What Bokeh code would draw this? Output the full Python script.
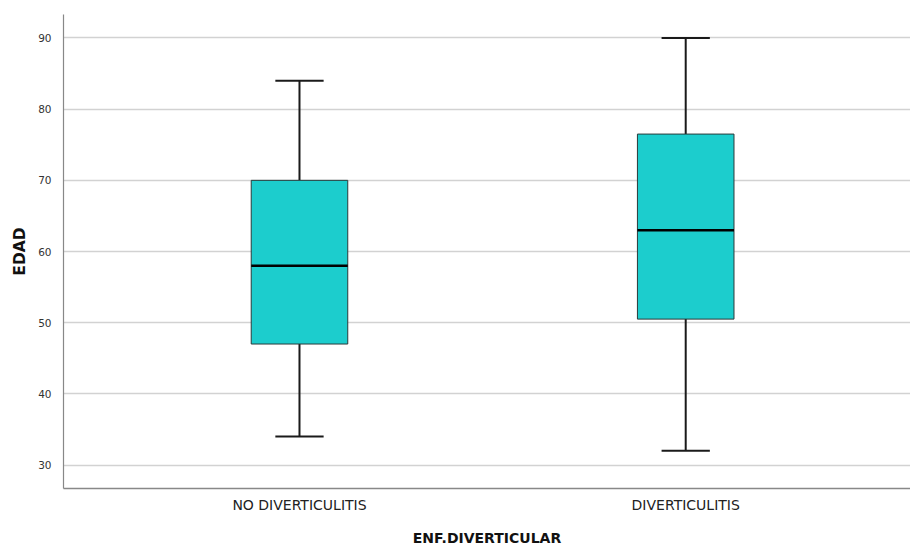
from bokeh.plotting import figure
from bokeh.models import Range1d, FixedTicker, ColumnDataSource
from bokeh.embed import file_html
from bokeh.resources import INLINE

# Age distribution (EDAD) by diverticular disease group
categories = ["NO DIVERTICULITIS", "DIVERTICULITIS"]
whisker_low = [34, 32]
q1 = [47, 50.5]
median = [58, 63]
q3 = [70, 76.5]
whisker_high = [84, 90]
y_ticks = [30, 40, 50, 60, 70, 80, 90]

BOX_W = 0.25
CAP_W = 0.125
FONT = "DejaVu Sans"

xs = [i + 0.5 for i in range(len(categories))]
src = ColumnDataSource(dict(
    x=xs,
    x_left=[x - BOX_W / 2 for x in xs],
    x_right=[x + BOX_W / 2 for x in xs],
    cap_left=[x - CAP_W / 2 for x in xs],
    cap_right=[x + CAP_W / 2 for x in xs],
    lo=whisker_low, q1=q1, med=median, q3=q3, hi=whisker_high,
))

p = figure(width=910, height=548, output_backend="svg", toolbar_location=None,
           x_range=Range1d(-0.111, 2.082), y_range=Range1d(26.7, 93.3),
           min_border_left=63, min_border_top=14, min_border_right=0,
           min_border_bottom=59)
p.outline_line_color = None
p.background_fill_color = "white"
p.border_fill_color = "white"

# whiskers
p.segment(x0="x", y0="q3", x1="x", y1="hi", source=src, line_color="#1a1a1a", line_width=2)
p.segment(x0="x", y0="lo", x1="x", y1="q1", source=src, line_color="#1a1a1a", line_width=2)
# caps
p.segment(x0="cap_left", y0="hi", x1="cap_right", y1="hi", source=src, line_color="#1a1a1a", line_width=2)
p.segment(x0="cap_left", y0="lo", x1="cap_right", y1="lo", source=src, line_color="#1a1a1a", line_width=2)
# boxes
p.vbar(x="x", width=BOX_W, bottom="q1", top="q3", source=src,
       fill_color="#1ccdcd", line_color="#2a3a3a", line_width=1)
# medians
p.segment(x0="x_left", y0="med", x1="x_right", y1="med", source=src, line_color="black", line_width=2.5)

# grid
p.xgrid.grid_line_color = None
p.ygrid.grid_line_color = "#d2d2d2"
p.ygrid.grid_line_width = 1.5
p.ygrid.ticker = FixedTicker(ticks=y_ticks)

# y axis
p.yaxis.ticker = FixedTicker(ticks=y_ticks)
p.yaxis.axis_label = "EDAD"
p.yaxis.axis_label_text_font = FONT
p.yaxis.axis_label_text_font_style = "bold"
p.yaxis.axis_label_text_font_size = "15.5px"
p.yaxis.axis_label_text_color = "#111111"
p.yaxis.axis_label_standoff = 6
p.yaxis.major_label_text_font = FONT
p.yaxis.major_label_text_font_size = "10.5px"
p.yaxis.major_label_text_color = "#333333"
p.yaxis.major_label_standoff = 6
p.yaxis.major_tick_line_color = None
p.yaxis.minor_tick_line_color = None
p.yaxis.axis_line_color = "#888888"
p.yaxis.axis_line_width = 1.2

# x axis
p.xaxis.ticker = FixedTicker(ticks=xs)
p.xaxis.major_label_overrides = {x: c for x, c in zip(xs, categories)}
p.xaxis.axis_label = "ENF.DIVERTICULAR"
p.xaxis.axis_label_text_font = FONT
p.xaxis.axis_label_text_font_style = "bold"
p.xaxis.axis_label_text_font_size = "14px"
p.xaxis.axis_label_text_color = "#111111"
p.xaxis.axis_label_standoff = 14
p.xaxis.major_label_text_font = FONT
p.xaxis.major_label_text_font_size = "14px"
p.xaxis.major_label_text_color = "#222222"
p.xaxis.major_label_standoff = 2
p.xaxis.major_tick_line_color = None
p.xaxis.minor_tick_line_color = None
p.xaxis.axis_line_color = "#888888"
p.xaxis.axis_line_width = 1.5

open("out.html", "w").write(file_html(p, INLINE))
